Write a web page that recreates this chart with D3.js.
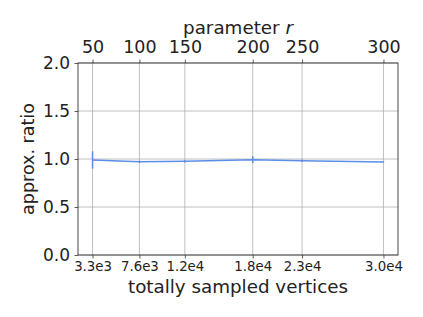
<!DOCTYPE html>
<html>
<head>
<meta charset="utf-8">
<script src="https://cdn.jsdelivr.net/npm/d3@7"></script>
<style>
  body { margin: 0; background: #fff; }
  svg text { font-family: "DejaVu Sans", sans-serif; fill: #222; }
</style>
</head>
<body>
<div id="chart"></div>
<script>
// chart data
const sampledVertices = [3300, 7600, 11770, 18000, 22530, 30000];
const bottomTickLabels = ['3.3e3', '7.6e3', '1.2e4', '1.8e4', '2.3e4', '3.0e4'];
const paramR = [50, 100, 150, 200, 250, 300];
const ratioMean = [0.99, 0.972, 0.976, 0.993, 0.982, 0.969];
const ratioErr = [0.09, 0.012, 0.012, 0.035, 0.012, 0.006];
const yTicks = [0, 0.5, 1.0, 1.5, 2.0];

const W = 423, H = 317;
const margin = {top: 63, right: 25, bottom: 62, left: 78};
const width = W - margin.left - margin.right;
const height = H - margin.top - margin.bottom;

const svg = d3.select('#chart').append('svg')
    .attr('width', W)
    .attr('height', H)
    .append('g')
    .attr('transform', `translate(${margin.left},${margin.top})`);

// matplotlib-like 5% padding around the data
const span = d3.max(sampledVertices) - d3.min(sampledVertices);
const xScale = d3.scaleLinear()
    .domain([d3.min(sampledVertices) - span * 0.05, d3.max(sampledVertices) + span * 0.05])
    .range([0, width]);
const yScale = d3.scaleLinear().domain([0, 2]).range([height, 0]);

// grid
svg.append('g').selectAll('line.vg')
    .data(sampledVertices)
    .enter().append('line')
    .attr('x1', d => xScale(d)).attr('x2', d => xScale(d))
    .attr('y1', 0).attr('y2', height)
    .attr('stroke', '#b0b0b0').attr('stroke-width', 0.8);
svg.append('g').selectAll('line.hg')
    .data(yTicks)
    .enter().append('line')
    .attr('x1', 0).attr('x2', width)
    .attr('y1', d => yScale(d)).attr('y2', d => yScale(d))
    .attr('stroke', '#b0b0b0').attr('stroke-width', 0.8);

// axes
const bottomAxis = d3.axisBottom(xScale)
    .tickValues(sampledVertices)
    .tickFormat((d, i) => bottomTickLabels[i])
    .tickSize(3.5).tickPadding(3.5);
const topAxis = d3.axisTop(xScale)
    .tickValues(sampledVertices)
    .tickFormat((d, i) => paramR[i])
    .tickSize(3.5).tickPadding(6.5);
const leftAxis = d3.axisLeft(yScale)
    .tickValues(yTicks)
    .tickFormat(d3.format('.1f'))
    .tickSize(3.5).tickPadding(4.5);

const gb = svg.append('g').attr('transform', `translate(0,${height})`).call(bottomAxis);
gb.selectAll('text').style('font-size', '13.3px');
const gt = svg.append('g').call(topAxis);
gt.selectAll('text').style('font-size', '17.5px');
const gl = svg.append('g').call(leftAxis);
gl.selectAll('text').style('font-size', '17px');
[gb, gt, gl].forEach(g => {
    g.select('.domain').remove();
    g.selectAll('line').attr('stroke', '#333').attr('stroke-width', 0.8);
});

// frame
svg.append('rect')
    .attr('width', width).attr('height', height)
    .attr('fill', 'none').attr('stroke', '#333').attr('stroke-width', 0.9);

// line with error bars
const lineColor = '#5b8ee6';
const line = d3.line()
    .x((d, i) => xScale(sampledVertices[i]))
    .y(d => yScale(d));
svg.append('path')
    .datum(ratioMean)
    .attr('d', line)
    .attr('fill', 'none')
    .attr('stroke', lineColor)
    .attr('stroke-width', 1.5);
svg.selectAll('.err')
    .data(ratioMean)
    .enter().append('line')
    .attr('x1', (d, i) => xScale(sampledVertices[i]))
    .attr('x2', (d, i) => xScale(sampledVertices[i]))
    .attr('y1', (d, i) => yScale(d - ratioErr[i]))
    .attr('y2', (d, i) => yScale(d + ratioErr[i]))
    .attr('stroke', lineColor)
    .attr('stroke-width', 1.5);

// labels
svg.append('text')
    .attr('text-anchor', 'middle')
    .attr('x', width / 2)
    .attr('y', height + 38)
    .style('font-size', '18.3px')
    .text('totally sampled vertices');

const topLabel = svg.append('text')
    .attr('text-anchor', 'middle')
    .attr('x', width / 2)
    .attr('y', -29)
    .style('font-size', '18.3px');
topLabel.append('tspan').text('parameter ');
topLabel.append('tspan').style('font-style', 'italic').text('r');

svg.append('text')
    .attr('text-anchor', 'middle')
    .attr('transform', 'rotate(-90)')
    .attr('x', -height / 2)
    .attr('y', -44)
    .style('font-size', '17.5px')
    .text('approx. ratio');
</script>
</body>
</html>
